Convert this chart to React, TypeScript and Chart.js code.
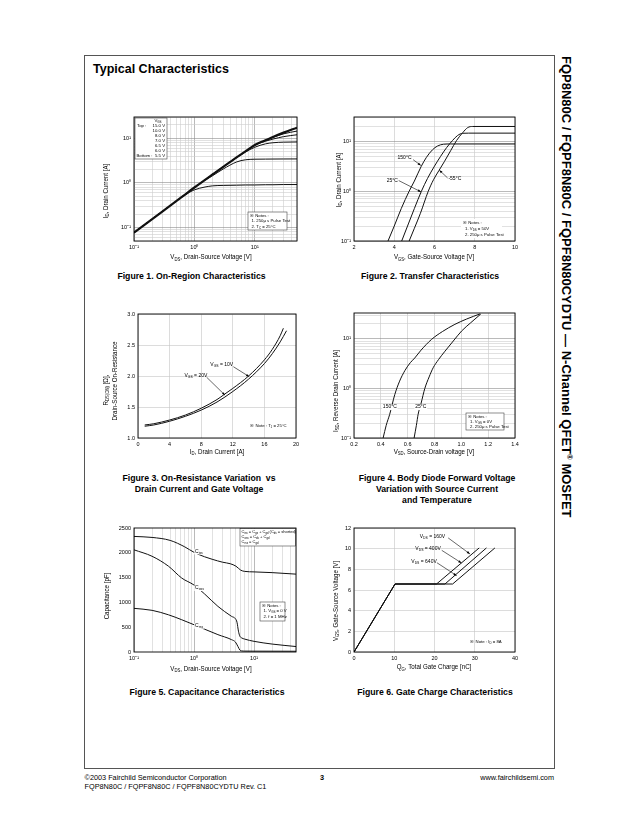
import React, { useEffect, useRef } from 'react';
import { Chart, registerables } from 'chart.js';

Chart.register(...registerables);

const FONT = '"Liberation Sans", Arial, Helvetica, sans-serif';
Chart.defaults.font.family = FONT;
Chart.defaults.color = '#000';

// ---------------- Figure 1 : On-Region Characteristics ----------------
const f1Vds = [0.1, 0.2, 0.5, 0.7, 1, 1.5, 2, 3, 5, 7, 10, 15, 20, 30, 50];
const f1Id15 = [0.077, 0.155, 0.39, 0.55, 0.79, 1.17, 1.55, 2.3, 3.75, 5.1, 7.1, 9.0, 10.7, 13.4, 17.3];
const f1Id10 = [0.077, 0.155, 0.39, 0.55, 0.79, 1.17, 1.55, 2.3, 3.75, 5.1, 7.1, 9.0, 10.5, 12.6, 14.5];
const f1Id8 = [0.077, 0.155, 0.39, 0.55, 0.79, 1.17, 1.55, 2.3, 3.75, 5.1, 7.0, 8.6, 9.6, 10.9, 12.0];
const f1Id7 = [0.077, 0.155, 0.39, 0.55, 0.79, 1.17, 1.55, 2.3, 3.7, 4.9, 6.3, 7.5, 7.95, 8.2, 8.3];
const f1Id65 = [0.077, 0.155, 0.39, 0.55, 0.79, 1.15, 1.45, 2.05, 2.95, 3.3, 3.4, 3.42, 3.43, 3.44, 3.45];
const f1Id6 = [0.077, 0.155, 0.39, 0.54, 0.7, 0.81, 0.86, 0.88, 0.89, 0.9, 0.9, 0.91, 0.91, 0.92, 0.92];
const f1LegendVgs = ['15.0 V', '10.0 V', '8.0 V', '7.0 V', '6.5 V', '6.0 V', '5.5 V'];

// ---------------- Figure 2 : Transfer Characteristics ----------------
const f2Vgs150 = [3.69, 4.0, 4.35, 4.74, 5.0, 5.33, 5.6, 5.9, 6.15, 6.45, 6.8, 10];
const f2Id150 = [0.1, 0.2, 0.45, 1.0, 1.6, 3.1, 4.8, 6.8, 8.1, 8.8, 8.9, 8.9];
const f2Vgs25 = [4.37, 4.7, 5.0, 5.35, 5.65, 6.0, 6.3, 6.6, 6.9, 7.15, 7.4, 7.7, 10];
const f2Id25 = [0.1, 0.22, 0.45, 1.0, 1.8, 3.2, 5.0, 7.5, 10.5, 13.2, 14.6, 14.7, 14.7];
const f2VgsM55 = [4.74, 5.0, 5.3, 5.69, 5.95, 6.22, 6.5, 6.8, 7.1, 7.4, 7.65, 7.9, 10];
const f2IdM55 = [0.1, 0.18, 0.36, 1.0, 1.7, 2.6, 4.0, 6.5, 10.5, 15, 19, 20, 20];

// ---------------- Figure 3 : On-Resistance ----------------
const f3Id10 = [0.85, 2, 4, 6, 8, 10, 11, 12, 14, 16, 17, 18, 18.4];
const f3R10 = [1.21, 1.23, 1.29, 1.37, 1.48, 1.62, 1.71, 1.8, 2.0, 2.26, 2.43, 2.65, 2.77];
const f3Id20 = [0.85, 2, 4, 6, 8, 10, 12, 14, 16, 17, 18, 18.8];
const f3R20 = [1.19, 1.21, 1.27, 1.35, 1.45, 1.58, 1.75, 1.95, 2.2, 2.36, 2.55, 2.73];

// ---------------- Figure 4 : Body Diode ----------------
const f4Vsd150 = [0.417, 0.44, 0.466, 0.504, 0.54, 0.58, 0.62, 0.653, 0.7, 0.778, 0.86, 0.952, 1.04, 1.139];
const f4Isd150 = [0.1, 0.18, 0.3, 0.75, 1.4, 2.3, 3.3, 4.1, 5.9, 9.7, 14, 19.5, 25, 31.6];
const f4Vsd25 = [0.648, 0.665, 0.678, 0.7, 0.728, 0.76, 0.79, 0.83, 0.878, 0.94, 1.002, 1.07, 1.145];
const f4Isd25 = [0.1, 0.18, 0.3, 0.5, 1.0, 1.7, 2.6, 3.8, 5.6, 9, 14.3, 21, 31.5];

// ---------------- Figure 5 : Capacitance ----------------
const f5VdsIss = [0.1, 0.2, 0.4, 0.7, 1, 1.5, 2, 3, 4, 5, 6, 7, 10, 20, 50];
const f5Ciss = [2330, 2310, 2250, 2120, 2010, 1920, 1870, 1810, 1780, 1730, 1650, 1625, 1615, 1600, 1570];
const f5VdsOss = [0.1, 0.2, 0.375, 0.625, 1, 1.5, 2.5, 4.2, 4.9, 5.2, 5.5, 5.8, 6.2, 7, 10, 20, 50];
const f5Coss = [2060, 1930, 1730, 1490, 1350, 1170, 920, 720, 670, 600, 420, 320, 285, 260, 215, 160, 110];
const f5VdsRss = [0.1, 0.2, 0.375, 0.625, 1, 1.5, 2.5, 4.2, 4.9, 5.4, 5.8, 6.2, 7, 10, 50];
const f5Crss = [880, 840, 750, 650, 550, 460, 350, 250, 200, 110, 40, 22, 18, 17, 15];

// ---------------- Figure 6 : Gate Charge ----------------
const f6Qg160 = [0, 10.2, 20.5, 31.1];
const f6Vgs160 = [0, 6.58, 6.58, 10.07];
const f6Qg400 = [0, 10.2, 22.6, 32.9];
const f6Vgs400 = [0, 6.58, 6.58, 10.07];
const f6Qg640 = [0, 10.2, 24.5, 35.0];
const f6Vgs640 = [0, 6.58, 6.58, 10.07];

// ---------------- tick labels ----------------
const decadeVals = [0.1, 1, 10];
const decadeTxt = ['10⁻¹', '10⁰', '10¹'];
const f2XVals = [2, 4, 6, 8, 10];
const f2XTxt = ['2', '4', '6', '8', '10'];
const f3XVals = [0, 4, 8, 12, 16, 20];
const f3XTxt = ['0', '4', '8', '12', '16', '20'];
const f3YVals = [1.0, 1.5, 2.0, 2.5, 3.0];
const f3YTxt = ['1.0', '1.5', '2.0', '2.5', '3.0'];
const f4XVals = [0.2, 0.4, 0.6, 0.8, 1.0, 1.2, 1.4];
const f4XTxt = ['0.2', '0.4', '0.6', '0.8', '1.0', '1.2', '1.4'];
const f5YVals = [0, 500, 1000, 1500, 2000, 2500];
const f5YTxt = ['0', '500', '1000', '1500', '2000', '2500'];
const f6XVals = [0, 10, 20, 30, 40];
const f6XTxt = ['0', '10', '20', '30', '40'];
const f6YVals = [0, 2, 4, 6, 8, 10, 12];
const f6YTxt = ['0', '2', '4', '6', '8', '10', '12'];

function logGrid(min: number, max: number): number[] {
  const out: number[] = [];
  for (let e = -3; e <= 4; e++) {
    for (let m = 1; m <= 9; m++) {
      const v = Number((m * Math.pow(10, e)).toPrecision(6));
      if (v >= min * (1 - 1e-9) && v <= max * (1 + 1e-9)) out.push(v);
    }
  }
  return out;
}
const isDecade = (v: number) => v > 0 && Math.abs(Math.log10(v) - Math.round(Math.log10(v))) < 1e-6;

// ---------------- rich text ----------------
type Seg = { t: string; k: number };
function parseRich(s: string): Seg[] {
  const out: Seg[] = [];
  let i = 0;
  let buf = '';
  while (i < s.length) {
    const c = s[i];
    if ((c === '_' || c === '^') && s[i + 1] === '{') {
      if (buf) { out.push({ t: buf, k: 0 }); buf = ''; }
      const j = s.indexOf('}', i);
      out.push({ t: s.slice(i + 2, j), k: c === '_' ? 1 : 2 });
      i = j + 1;
    } else { buf += c; i++; }
  }
  if (buf) out.push({ t: buf, k: 0 });
  return out;
}

function drawRich(ctx: CanvasRenderingContext2D, s: string, x: number, y: number, size: number,
  align: 'left' | 'center' | 'right', rot: number, bg: boolean, sx: number, bold = false) {
  const segs = parseRich(s);
  const font = (sz: number) => `${bold ? 'bold ' : ''}${sz}px ${FONT}`;
  let w = 0;
  const widths = segs.map(sg => {
    ctx.font = font(sg.k ? size * 0.68 : size);
    const m = ctx.measureText(sg.t).width;
    w += m;
    return m;
  });
  ctx.save();
  ctx.translate(x, y);
  if (rot) ctx.rotate(rot);
  ctx.scale(sx, 1);
  let cx = align === 'center' ? -w / 2 : align === 'right' ? -w : 0;
  if (bg) {
    ctx.fillStyle = '#fff';
    ctx.fillRect(cx - 0.8, -size * 0.55, w + 1.6, size * 1.15);
  }
  ctx.fillStyle = '#000';
  ctx.textBaseline = 'middle';
  ctx.textAlign = 'left';
  segs.forEach((sg, i) => {
    const sz = sg.k ? size * 0.68 : size;
    ctx.font = font(sz);
    const dy = sg.k === 1 ? size * 0.3 : sg.k === 2 ? -size * 0.35 : 0;
    ctx.fillText(sg.t, cx, dy);
    cx += widths[i];
  });
  ctx.restore();
}

function drawArrow(ctx: CanvasRenderingContext2D, x1: number, y1: number, x2: number, y2: number) {
  ctx.beginPath();
  ctx.moveTo(x1, y1);
  ctx.lineTo(x2, y2);
  ctx.stroke();
  const a = Math.atan2(y2 - y1, x2 - x1);
  const L = 3.2, W = 1.2;
  ctx.beginPath();
  ctx.moveTo(x2, y2);
  ctx.lineTo(x2 - L * Math.cos(a) + W * Math.sin(a), y2 - L * Math.sin(a) - W * Math.cos(a));
  ctx.lineTo(x2 - L * Math.cos(a) - W * Math.sin(a), y2 - L * Math.sin(a) + W * Math.cos(a));
  ctx.closePath();
  ctx.fill();
}

// ---------------- specs ----------------
type Txt = { s: string; x: number; y: number; size?: number; align?: 'left' | 'center' | 'right'; data?: boolean; bg?: boolean };
type Arrow = { x1: number; y1: number; x2: number; y2: number };
type Box = { x1: number; y1: number; x2: number; y2: number; border?: boolean };
type Title = { s: string; x: number; y: number; rot?: boolean };
type Series = { x: number[]; y: number[]; w?: number };
type Spec = {
  box: { x: number; y: number; w: number; h: number };
  area: { l: number; t: number; r: number; b: number };
  xType: 'linear' | 'logarithmic'; yType: 'linear' | 'logarithmic';
  xMin: number; xMax: number; yMin: number; yMax: number;
  xTicks: number[]; xLabelVals: number[]; xLabelTxt: string[];
  yTicks: number[]; yLabelVals: number[]; yLabelTxt: string[];
  xGrid: boolean; yGrid: boolean; smooth: boolean;
  series: Series[];
  titles: Title[]; texts: Txt[]; arrows: Arrow[]; boxes: Box[];
};

const NS = 4.3;

const legendTexts: Txt[] = [
  { s: 'V_{GS}', x: 158, y: 120.5, size: NS, align: 'center' },
  { s: 'Top :', x: 137, y: 125.5, size: NS },
  { s: 'Bottom :', x: 136.5, y: 155.5, size: NS },
  ...f1LegendVgs.map((v, i) => ({ s: v, x: 165, y: 125.5 + i * 5, size: NS, align: 'right' as const })),
];

const SPECS: Spec[] = [
  {
    box: { x: 92, y: 108, w: 213, h: 157 }, area: { l: 134, t: 117, r: 297, b: 241 },
    xType: 'logarithmic', yType: 'logarithmic', xMin: 0.1, xMax: 50, yMin: 0.05, yMax: 30,
    xTicks: logGrid(0.1, 50), xLabelVals: decadeVals, xLabelTxt: decadeTxt,
    yTicks: logGrid(0.05, 30), yLabelVals: decadeVals, yLabelTxt: decadeTxt,
    xGrid: true, yGrid: true, smooth: true,
    series: [
      { x: f1Vds, y: f1Id6 }, { x: f1Vds, y: f1Id65 }, { x: f1Vds, y: f1Id7 },
      { x: f1Vds, y: f1Id8 }, { x: f1Vds, y: f1Id10 }, { x: f1Vds, y: f1Id15, w: 2.2 },
    ],
    titles: [
      { s: 'I_{D}, Drain Current [A]', x: 106, y: 191, rot: true },
      { s: 'V_{DS}, Drain-Source Voltage [V]', x: 211, y: 257.5 },
    ],
    texts: [
      ...legendTexts,
      { s: '※ Notes :', x: 250, y: 215.5, size: NS },
      { s: '1. 250μ s Pulse Test', x: 251.5, y: 221, size: NS },
      { s: '2. T_{C} = 25°C', x: 251.5, y: 226.5, size: NS },
    ],
    arrows: [],
    boxes: [{ x1: 135, y1: 118, x2: 167, y2: 159, border: true }, { x1: 248, y1: 212, x2: 287, y2: 230, border: true }],
  },
  {
    box: { x: 325, y: 108, w: 200, h: 157 }, area: { l: 354, t: 117, r: 515, b: 241 },
    xType: 'linear', yType: 'logarithmic', xMin: 2, xMax: 10, yMin: 0.1, yMax: 31,
    xTicks: f2XVals, xLabelVals: f2XVals, xLabelTxt: f2XTxt,
    yTicks: logGrid(0.1, 31), yLabelVals: decadeVals, yLabelTxt: decadeTxt,
    xGrid: true, yGrid: true, smooth: true,
    series: [{ x: f2Vgs150, y: f2Id150 }, { x: f2Vgs25, y: f2Id25 }, { x: f2VgsM55, y: f2IdM55 }],
    titles: [
      { s: 'I_{D}, Drain Current [A]', x: 339, y: 180, rot: true },
      { s: 'V_{GS}, Gate-Source Voltage [V]', x: 434, y: 257.5 },
    ],
    texts: [
      { s: '150°C', x: 4.51, y: 4.66, size: 5, align: 'center', data: true },
      { s: '25°C', x: 3.9, y: 1.64, size: 5, align: 'center', data: true },
      { s: '-55°C', x: 7.01, y: 1.8, size: 5, align: 'center', data: true },
      { s: '※ Notes :', x: 463, y: 222.5, size: NS },
      { s: '1. V_{DS} = 50V', x: 465, y: 228.5, size: NS },
      { s: '2. 250μ s Pulse Test', x: 465, y: 234.5, size: NS },
    ],
    arrows: [
      { x1: 4.94, y1: 4.3, x2: 5.32, y2: 3.3 },
      { x1: 4.22, y1: 1.64, x2: 5.33, y2: 0.97 },
      { x1: 6.65, y1: 1.85, x2: 6.24, y2: 2.65 },
    ],
    boxes: [{ x1: 461, y1: 219, x2: 502, y2: 238 }],
  },
  {
    box: { x: 92, y: 305, w: 213, h: 155 }, area: { l: 138, t: 314, r: 296, b: 438 },
    xType: 'linear', yType: 'linear', xMin: 0, xMax: 20, yMin: 1, yMax: 3,
    xTicks: f3XVals, xLabelVals: f3XVals, xLabelTxt: f3XTxt,
    yTicks: f3YVals, yLabelVals: f3YVals, yLabelTxt: f3YTxt,
    xGrid: true, yGrid: true, smooth: true,
    series: [{ x: f3Id10, y: f3R10 }, { x: f3Id20, y: f3R20 }],
    titles: [
      { s: 'R_{DS(ON)} [Ω],', x: 106, y: 390, rot: true },
      { s: 'Drain-Source On-Resistance', x: 115, y: 381, rot: true },
      { s: 'I_{D}, Drain Current [A]', x: 217, y: 452 },
    ],
    texts: [
      { s: 'V_{GS} = 10V', x: 10.6, y: 2.18, size: 5, align: 'center', data: true },
      { s: 'V_{GS} = 20V', x: 7.33, y: 2.01, size: 5, align: 'center', data: true },
      { s: '※ Note : T_{J} = 25°C', x: 268.5, y: 425.7, size: NS, align: 'center' },
    ],
    arrows: [
      { x1: 12.07, y1: 2.15, x2: 14.07, y2: 1.99 },
      { x1: 8.69, y1: 1.98, x2: 11.02, y2: 1.69 },
    ],
    boxes: [],
  },
  {
    box: { x: 325, y: 305, w: 200, h: 155 }, area: { l: 354, t: 313, r: 515, b: 438 },
    xType: 'linear', yType: 'logarithmic', xMin: 0.2, xMax: 1.4, yMin: 0.1, yMax: 33,
    xTicks: f4XVals, xLabelVals: f4XVals, xLabelTxt: f4XTxt,
    yTicks: logGrid(0.1, 33), yLabelVals: decadeVals, yLabelTxt: decadeTxt,
    xGrid: true, yGrid: true, smooth: true,
    series: [{ x: f4Vsd150, y: f4Isd150 }, { x: f4Vsd25, y: f4Isd25 }],
    titles: [
      { s: 'I_{SD}, Reverse Drain Current [A]', x: 336, y: 391, rot: true },
      { s: 'V_{SD}, Source-Drain voltage [V]', x: 434, y: 452 },
    ],
    texts: [
      { s: '150°C', x: 0.467, y: 0.42, size: 5, align: 'center', data: true, bg: true },
      { s: '25°C', x: 0.698, y: 0.42, size: 5, align: 'center', data: true, bg: true },
      { s: '※ Notes :', x: 468, y: 416.5, size: NS },
      { s: '1. V_{GS} = 0V', x: 470, y: 421.8, size: NS },
      { s: '2. 250μ s Pulse Test', x: 470, y: 427, size: NS },
    ],
    arrows: [],
    boxes: [{ x1: 466, y1: 413, x2: 504, y2: 430, border: true }],
  },
  {
    box: { x: 92, y: 520, w: 213, h: 158 }, area: { l: 134, t: 528, r: 296, b: 652 },
    xType: 'logarithmic', yType: 'linear', xMin: 0.1, xMax: 50, yMin: 0, yMax: 2500,
    xTicks: logGrid(0.1, 50), xLabelVals: decadeVals, xLabelTxt: decadeTxt,
    yTicks: f5YVals, yLabelVals: f5YVals, yLabelTxt: f5YTxt,
    xGrid: true, yGrid: false, smooth: true,
    series: [{ x: f5VdsIss, y: f5Ciss }, { x: f5VdsOss, y: f5Coss }, { x: f5VdsRss, y: f5Crss }],
    titles: [
      { s: 'Capacitance [pF]', x: 107, y: 596, rot: true },
      { s: 'V_{DS}, Drain-Source Voltage [V]', x: 211, y: 669 },
    ],
    texts: [
      { s: 'C_{iss}', x: 1.04, y: 2028, size: 5, data: true, bg: true },
      { s: 'C_{oss}', x: 1.04, y: 1290, size: 5, data: true, bg: true },
      { s: 'C_{rss}', x: 1.04, y: 530, size: 5, data: true, bg: true },
      { s: 'C_{iss} = C_{gs} + C_{gd} (C_{ds} = shorted)', x: 241.5, y: 531.8, size: 4 },
      { s: 'C_{oss} = C_{ds} + C_{gd}', x: 241.5, y: 536.8, size: 4 },
      { s: 'C_{rss} = C_{gd}', x: 241.5, y: 541.8, size: 4 },
      { s: '※ Notes :', x: 262, y: 605.5, size: NS },
      { s: '1. V_{GS} = 0 V', x: 263.5, y: 611, size: NS },
      { s: '2. f = 1 MHz', x: 263.5, y: 616.5, size: NS },
    ],
    arrows: [],
    boxes: [{ x1: 240, y1: 528.5, x2: 295.5, y2: 546, border: true }, { x1: 260, y1: 602, x2: 285, y2: 621, border: true }],
  },
  {
    box: { x: 325, y: 520, w: 200, h: 158 }, area: { l: 354, t: 528, r: 515, b: 652 },
    xType: 'linear', yType: 'linear', xMin: 0, xMax: 40, yMin: 0, yMax: 12,
    xTicks: f6XVals, xLabelVals: f6XVals, xLabelTxt: f6XTxt,
    yTicks: f6YVals, yLabelVals: f6YVals, yLabelTxt: f6YTxt,
    xGrid: true, yGrid: true, smooth: false,
    series: [{ x: f6Qg160, y: f6Vgs160 }, { x: f6Qg400, y: f6Vgs400 }, { x: f6Qg640, y: f6Vgs640 }],
    titles: [
      { s: 'V_{GS}, Gate-Source Voltage [V]', x: 336, y: 601, rot: true },
      { s: 'Q_{G}, Total Gate Charge [nC]', x: 434, y: 667.5 },
    ],
    texts: [
      { s: 'V_{DS} = 160V', x: 19.5, y: 11.19, size: 5, align: 'center', data: true },
      { s: 'V_{DS} = 400V', x: 18.4, y: 10.0, size: 5, align: 'center', data: true },
      { s: 'V_{DS} = 640V', x: 17.4, y: 8.77, size: 5, align: 'center', data: true },
      { s: '※ Note : I_{D} = 8A', x: 486, y: 641.7, size: NS, align: 'center' },
    ],
    arrows: [
      { x1: 23.4, y1: 11.04, x2: 28.8, y2: 9.49 },
      { x1: 21.8, y1: 9.84, x2: 26.7, y2: 8.62 },
      { x1: 20.6, y1: 8.64, x2: 25.5, y2: 7.39 },
    ],
    boxes: [],
  },
];

function labeler(vals: number[], txt: string[]) {
  return (v: number | string) => {
    const n = Number(v);
    const i = vals.findIndex(u => Math.abs(u - n) <= 1e-9 * Math.max(1, Math.abs(u)));
    return i >= 0 ? txt[i] : '';
  };
}

function makeOverlay(sp: Spec) {
  return {
    id: 'overlay',
    afterDatasetsDraw(chart: any) {
      const ctx: CanvasRenderingContext2D = chart.ctx;
      const a = chart.chartArea;
      const xs = chart.scales.x;
      const ys = chart.scales.y;
      const P = (x: number, y: number) => [x - sp.box.x, y - sp.box.y];
      const D = (x: number, y: number) => [xs.getPixelForValue(x), ys.getPixelForValue(y)];
      ctx.save();
      sp.boxes.forEach(b => {
        const [x1, y1] = P(b.x1, b.y1);
        const [x2, y2] = P(b.x2, b.y2);
        ctx.fillStyle = '#fff';
        ctx.fillRect(x1, y1, x2 - x1, y2 - y1);
        if (b.border) {
          ctx.strokeStyle = '#444';
          ctx.lineWidth = 0.6;
          ctx.strokeRect(x1, y1, x2 - x1, y2 - y1);
        }
      });
      ctx.strokeStyle = '#000';
      ctx.fillStyle = '#000';
      ctx.lineWidth = 0.6;
      sp.arrows.forEach(ar => {
        const [x1, y1] = D(ar.x1, ar.y1);
        const [x2, y2] = D(ar.x2, ar.y2);
        drawArrow(ctx, x1, y1, x2, y2);
      });
      sp.texts.forEach(t => {
        const [x, y] = t.data ? D(t.x, t.y) : P(t.x, t.y);
        drawRich(ctx, t.s, x, y, t.size ?? NS, t.align ?? 'left', 0, !!t.bg, 1);
      });
      ctx.strokeStyle = '#000';
      ctx.lineWidth = 0.9;
      ctx.strokeRect(a.left, a.top, a.right - a.left, a.bottom - a.top);
      sp.titles.forEach(t => {
        const [x, y] = P(t.x, t.y);
        drawRich(ctx, t.s, x, y, 6.5, 'center', t.rot ? -Math.PI / 2 : 0, false, 0.95);
      });
      ctx.restore();
    },
  };
}

function makeConfig(sp: Spec): any {
  const gridColor = (log: boolean) => (c: any) => {
    const v = c.tick ? c.tick.value : 0;
    if (log) return isDecade(v) ? '#8c8c8c' : '#cdcdcd';
    return '#c4c4c4';
  };
  const yW = sp.area.l - sp.box.x;
  const xH = sp.box.y + sp.box.h - sp.area.b;
  return {
    type: 'scatter',
    data: {
      datasets: sp.series.map(s => ({
        data: s.x.map((v, i) => ({ x: v, y: s.y[i] })),
        showLine: true,
        borderColor: '#111',
        backgroundColor: '#111',
        borderWidth: s.w ?? 1,
        pointRadius: 0,
        fill: false,
        cubicInterpolationMode: sp.smooth ? 'monotone' : 'default',
        tension: 0,
      })),
    },
    options: {
      animation: false,
      responsive: false,
      events: [],
      layout: { padding: { top: sp.area.t - sp.box.y, right: sp.box.x + sp.box.w - sp.area.r, left: 0, bottom: 0 } },
      plugins: { legend: { display: false }, tooltip: { enabled: false }, title: { display: false } },
      scales: {
        x: {
          type: sp.xType, min: sp.xMin, max: sp.xMax, position: 'bottom',
          afterBuildTicks: (s: any) => { s.ticks = sp.xTicks.map(v => ({ value: v })); },
          afterFit: (s: any) => { s.height = xH; s.paddingLeft = 0; s.paddingRight = 0; s.paddingTop = 0; s.paddingBottom = 0; },
          ticks: { callback: labeler(sp.xLabelVals, sp.xLabelTxt), autoSkip: false, maxRotation: 0, minRotation: 0, font: { size: 5.5 }, color: '#000', padding: 3 },
          grid: { display: sp.xGrid, color: gridColor(sp.xType === 'logarithmic'), lineWidth: 0.6, drawTicks: false },
          border: { display: false },
        },
        y: {
          type: sp.yType, min: sp.yMin, max: sp.yMax, position: 'left',
          afterBuildTicks: (s: any) => { s.ticks = sp.yTicks.map(v => ({ value: v })); },
          afterFit: (s: any) => { s.width = yW; s.paddingLeft = 0; s.paddingRight = 0; s.paddingTop = 0; s.paddingBottom = 0; },
          ticks: { callback: labeler(sp.yLabelVals, sp.yLabelTxt), autoSkip: false, font: { size: 5.5 }, color: '#000', padding: 3 },
          grid: { display: sp.yGrid, color: gridColor(sp.yType === 'logarithmic'), lineWidth: 0.6, drawTicks: false },
          border: { display: false },
        },
      },
    },
    plugins: [makeOverlay(sp)],
  };
}

function ChartCanvas({ spec }: { spec: Spec }) {
  const ref = useRef<HTMLCanvasElement>(null);
  useEffect(() => {
    if (!ref.current) return;
    const chart = new Chart(ref.current, makeConfig(spec));
    return () => chart.destroy();
  }, [spec]);
  return (
    <canvas
      ref={ref}
      width={spec.box.w}
      height={spec.box.h}
      style={{ position: 'absolute', left: spec.box.x, top: spec.box.y, width: spec.box.w, height: spec.box.h }}
    />
  );
}

const captions = [
  { cx: 191.5, cy: 276, t: 'Figure 1. On-Region Characteristics' },
  { cx: 430, cy: 276, t: 'Figure 2. Transfer Characteristics' },
  { cx: 199, cy: 478, t: 'Figure 3. On-Resistance Variation  vs\nDrain Current and Gate Voltage' },
  { cx: 437, cy: 478, t: 'Figure 4. Body Diode Forward Voltage\nVariation with Source Current\nand Temperature' },
  { cx: 207, cy: 692, t: 'Figure 5. Capacitance Characteristics' },
  { cx: 435, cy: 692, t: 'Figure 6. Gate Charge Characteristics' },
];

export default function App() {
  const abs: React.CSSProperties = { position: 'absolute', whiteSpace: 'pre', margin: 0 };
  return (
    <div style={{ position: 'absolute', left: 0, top: 0, width: 638, height: 826, background: '#fff', fontFamily: FONT, color: '#000', overflow: 'hidden' }}>
      <div style={{ position: 'absolute', left: 84, top: 55, width: 469, height: 712, border: '1px solid #555' }} />
      <div style={{ ...abs, left: 93, top: 62.5, fontSize: 12.5, lineHeight: '12.5px', fontWeight: 'bold' }}>Typical Characteristics</div>
      {SPECS.map((s, i) => <ChartCanvas key={i} spec={s} />)}
      {captions.map((c, i) => (
        <div key={i} style={{ ...abs, left: c.cx - 150, width: 300, top: c.cy - 5.5, textAlign: 'center', fontSize: 8.7, fontWeight: 'bold', lineHeight: '11px' }}>{c.t}</div>
      ))}
      <div style={{ ...abs, left: 572.5, top: 56, transformOrigin: '0 0', transform: 'rotate(90deg)', fontSize: 13, lineHeight: '14px', fontWeight: 'bold' }}>
        FQP8N80C / FQPF8N80C / FQPF8N80CYDTU — N-Channel QFET<span style={{ fontSize: '0.6em', position: 'relative', top: '-0.7em' }}>®</span> MOSFET
      </div>
      <div style={{ ...abs, left: 84.5, top: 773.3, fontSize: 7.3, lineHeight: '9px' }}>{'©2003 Fairchild Semiconductor Corporation\nFQP8N80C / FQPF8N80C / FQPF8N80CYDTU Rev. C1'}</div>
      <div style={{ ...abs, left: 310, width: 24, textAlign: 'center', top: 773.3, fontSize: 7.3, lineHeight: '9px', fontWeight: 'bold' }}>3</div>
      <div style={{ ...abs, right: 84, top: 773.3, fontSize: 7.3, lineHeight: '9px', textAlign: 'right' }}>www.fairchildsemi.com</div>
    </div>
  );
}
